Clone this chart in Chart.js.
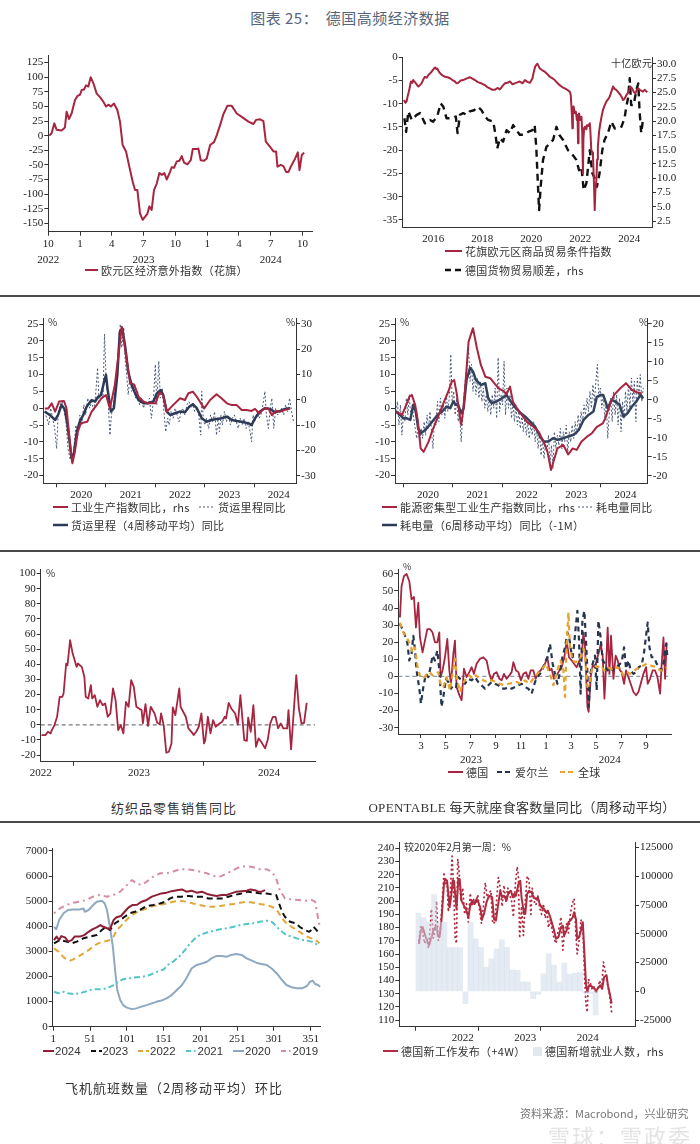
<!DOCTYPE html>
<html>
<head>
<meta charset="utf-8">
<title>德国高频经济数据</title>
<script src="https://cdn.jsdelivr.net/npm/chart.js@4.4.1/dist/chart.umd.min.js"></script>
<style>
  body { margin: 0; background: #fff; }
  #page { position: relative; width: 700px; height: 1144px; overflow: hidden; font-family: "Noto Sans CJK SC", sans-serif; color: #333; }
  canvas { position: absolute; }
  .t { position: absolute; white-space: nowrap; font-size: 11px; line-height: 14px; letter-spacing: 0.3px; color: #333; }
  .sep { position: absolute; left: 0; width: 700px; height: 2px; background: #4a4a4a; }
  svg.k { position: absolute; overflow: visible; }
</style>
</head>
<body>
<div id="page">
  <div class="t" style="left:0;width:700px;top:8px;text-align:center;font-size:15px;line-height:20px;color:#55657a;letter-spacing:0.5px;">图表 25：&nbsp;&nbsp;德国高频经济数据</div>
  <div class="sep" style="top:295px"></div>
  <div class="sep" style="top:550px"></div>
  <div class="sep" style="top:821px"></div>
</div>
<script>
// ---------- 数据 ----------
// 1 欧元区经济意外指数（月序号，0 = 2022年10月）
var p1Surprise = [[0.09,0],[0.31,4],[0.57,21],[0.79,10],[1.26,9],[1.57,14],[1.73,41],[1.95,28.5],[2.2,38],[2.52,61],[2.77,68],[2.99,70],[3.15,78],[3.37,79],[3.56,86],[3.78,84],[4.0,100],[4.25,90],[4.57,72],[4.88,66],[5.2,58],[5.45,50],[5.67,53],[5.92,50],[6.2,55],[6.52,44],[6.77,24],[7.02,-16],[7.34,-27],[7.65,-53],[7.97,-79],[8.19,-93],[8.41,-93],[8.66,-133],[8.91,-144],[9.13,-139],[9.35,-134],[9.54,-121],[9.76,-127],[9.98,-93],[10.24,-82],[10.49,-64],[10.71,-67],[10.96,-64],[11.18,-75],[11.5,-62],[11.65,-54],[11.87,-55],[12.13,-44],[12.38,-43],[12.6,-35],[12.82,-46],[13.13,-49],[13.45,-42],[13.64,-23],[14.02,-23],[14.17,-22],[14.39,-42],[14.71,-43],[14.96,-39],[15.28,-16],[15.65,-11],[15.91,1],[16.22,18],[16.54,37],[16.91,51],[17.32,51],[17.8,38],[18.43,30],[18.9,24],[19.37,20],[19.62,27],[20.0,28],[20.31,25],[20.54,-10],[20.94,-19],[21.26,-27],[21.51,-27],[21.64,-53],[21.95,-50],[22.2,-52],[22.46,-62],[22.68,-62],[22.9,-53],[23.31,-39],[23.56,-28.5],[23.72,-59],[23.94,-33],[24.16,-29]];
var p1YTicks = [-150,-125,-100,-75,-50,-25,0,25,50,75,100,125];
var p1XTicks = [0,3,6,9,12,15,18,21,24];
var p1XLabels = [['10','2022'],['1',''],['4',''],['7','2023'],['10',''],['1',''],['4',''],['7','2024'],['10','']];

// 2 贸易条件（左）与货物贸易顺差（右，十亿欧元）
var p2TermsOfTrade = [[2014.8,-9.2],[2014.86,-9.8],[2014.91,-9.5],[2014.96,-8.2],[2015.02,-7.0],[2015.06,-5.8],[2015.09,-5.2],[2015.14,-5.5],[2015.18,-4.9],[2015.24,-5.3],[2015.29,-5.6],[2015.34,-6.0],[2015.39,-6.3],[2015.45,-6.0],[2015.52,-5.6],[2015.59,-4.8],[2015.66,-4.2],[2015.73,-4.4],[2015.8,-3.8],[2015.86,-3.5],[2015.93,-3.1],[2016.0,-2.6],[2016.07,-2.2],[2016.12,-2.5],[2016.16,-2.4],[2016.22,-3.0],[2016.27,-3.4],[2016.37,-3.9],[2016.48,-4.2],[2016.58,-4.3],[2016.68,-4.5],[2016.78,-4.9],[2016.88,-5.2],[2016.95,-5.6],[2017.02,-5.5],[2017.12,-5.0],[2017.22,-4.9],[2017.35,-4.6],[2017.49,-4.3],[2017.6,-4.6],[2017.7,-4.9],[2017.8,-5.3],[2017.9,-5.5],[2018.0,-5.7],[2018.11,-6.0],[2018.2,-6.4],[2018.31,-6.7],[2018.41,-7.0],[2018.51,-7.0],[2018.62,-6.6],[2018.72,-6.9],[2018.82,-6.2],[2018.92,-5.6],[2019.03,-5.5],[2019.13,-5.2],[2019.23,-5.8],[2019.33,-5.6],[2019.43,-5.4],[2019.53,-5.2],[2019.64,-5.6],[2019.74,-4.9],[2019.84,-5.3],[2019.94,-5.5],[2020.0,-5.0],[2020.05,-4.5],[2020.1,-3.2],[2020.16,-2.0],[2020.21,-1.6],[2020.25,-1.4],[2020.3,-1.9],[2020.35,-2.4],[2020.45,-2.8],[2020.55,-3.1],[2020.65,-3.6],[2020.76,-4.2],[2020.86,-4.5],[2020.96,-4.9],[2021.06,-5.5],[2021.16,-6.0],[2021.26,-6.4],[2021.37,-6.7],[2021.47,-7.0],[2021.57,-7.4],[2021.61,-8.0],[2021.64,-10.6],[2021.66,-12.5],[2021.68,-15.3],[2021.7,-11.2],[2021.73,-10.6],[2021.77,-12.0],[2021.82,-11.7],[2021.86,-13.5],[2021.89,-12.4],[2021.91,-18.5],[2021.93,-13.0],[2021.95,-12.1],[2022.0,-13.5],[2022.05,-12.8],[2022.08,-16.0],[2022.11,-25.0],[2022.13,-17.5],[2022.16,-15.2],[2022.2,-14.9],[2022.25,-15.5],[2022.28,-14.6],[2022.33,-14.8],[2022.39,-14.2],[2022.42,-16.5],[2022.45,-19.9],[2022.49,-20.5],[2022.52,-21.4],[2022.55,-25.5],[2022.57,-29.0],[2022.59,-32.9],[2022.62,-28.5],[2022.66,-26.4],[2022.69,-22.0],[2022.72,-19.2],[2022.77,-16.0],[2022.82,-14.2],[2022.88,-12.5],[2022.93,-11.3],[2023.0,-10.3],[2023.07,-9.5],[2023.14,-9.0],[2023.2,-8.5],[2023.27,-7.4],[2023.34,-6.3],[2023.4,-6.8],[2023.47,-7.0],[2023.55,-7.5],[2023.64,-8.1],[2023.7,-8.6],[2023.74,-9.2],[2023.8,-9.0],[2023.85,-8.5],[2023.9,-8.0],[2023.95,-7.7],[2024.0,-7.0],[2024.04,-6.3],[2024.1,-6.6],[2024.15,-7.0],[2024.2,-7.6],[2024.26,-7.7],[2024.31,-7.0],[2024.37,-6.7],[2024.43,-7.0],[2024.49,-7.2],[2024.56,-7.4],[2024.63,-7.0],[2024.69,-7.3],[2024.74,-7.5]];
var p2TradeBalance = [[2014.82,20.5],[2014.89,18.1],[2014.98,21.7],[2015.12,20.2],[2015.32,21.1],[2015.46,21.4],[2015.66,19.6],[2015.86,20.2],[2015.99,19.9],[2016.16,20.8],[2016.3,23.1],[2016.41,22.5],[2016.54,20.5],[2016.75,20.5],[2016.92,20.8],[2016.99,17.9],[2017.09,21.1],[2017.22,21.4],[2017.36,21.1],[2017.49,21.7],[2017.66,21.9],[2017.83,22.5],[2017.97,21.9],[2018.11,20.8],[2018.24,20.2],[2018.45,19.9],[2018.55,17.3],[2018.61,15.2],[2018.72,17.0],[2018.85,16.4],[2018.99,18.4],[2019.13,17.9],[2019.26,19.3],[2019.4,18.4],[2019.53,17.6],[2019.67,17.6],[2019.87,18.1],[2020.05,18.4],[2020.14,19.3],[2020.21,14.9],[2020.25,10.9],[2020.32,4.4],[2020.39,8.8],[2020.48,13.2],[2020.62,15.5],[2020.76,16.1],[2020.89,16.7],[2021.03,19.0],[2021.14,17.6],[2021.3,16.7],[2021.5,14.9],[2021.64,14.4],[2021.84,13.2],[2021.95,11.4],[2022.05,12.0],[2022.14,7.9],[2022.25,9.1],[2022.39,14.9],[2022.49,10.9],[2022.59,10.0],[2022.68,8.5],[2022.79,10.9],[2022.9,14.9],[2022.99,16.7],[2023.13,17.9],[2023.27,19.9],[2023.41,18.7],[2023.54,18.7],[2023.68,19.0],[2023.81,20.5],[2023.88,22.5],[2023.95,24.0],[2024.02,27.5],[2024.08,22.8],[2024.18,22.8],[2024.29,25.4],[2024.37,26.6],[2024.42,21.9],[2024.49,17.9],[2024.56,20.2]];
var p2YTicks = [-35,-30,-25,-20,-15,-10,-5,0];
var p2Y1Ticks = [2.5,5,7.5,10,12.5,15,17.5,20,22.5,25,27.5,30];
var p2XTicks = [2016,2018,2020,2022,2024];
var p2XLabels = ['2016','2018','2020','2022','2024'];

// 3 工业生产（右）与货运里程（左）
var p3IndProd = [[2019.76,-3.4],[2019.83,-3.4],[2019.9,-1.4],[2019.97,-4.7],[2020.05,-0.7],[2020.15,-0.5],[2020.2,-3.4],[2020.29,-20.5],[2020.32,-25.1],[2020.37,-20.5],[2020.43,-12.6],[2020.49,-9.3],[2020.62,-8.7],[2020.71,-4.7],[2020.81,-2.1],[2020.91,0.6],[2021.0,1.9],[2021.08,-3.4],[2021.18,5.9],[2021.32,28.9],[2021.41,17.1],[2021.49,6.5],[2021.57,6.1],[2021.66,1.2],[2021.76,-0.7],[2021.86,-1.4],[2022.0,-1.4],[2022.09,3.0],[2022.16,1.9],[2022.23,-4.7],[2022.36,-2.1],[2022.5,0.6],[2022.6,-0.1],[2022.67,2.6],[2022.76,3.2],[2022.84,1.2],[2022.99,-3.4],[2023.11,-0.1],[2023.24,2.2],[2023.34,0.6],[2023.45,-1.4],[2023.55,-2.1],[2023.65,-2.1],[2023.75,-4.0],[2023.85,-4.0],[2023.95,-4.4],[2024.02,-3.6],[2024.11,-5.4],[2024.2,-3.4],[2024.29,-3.4],[2024.36,-6.0],[2024.45,-4.4],[2024.53,-4.7],[2024.63,-4.0],[2024.73,-3.4]];
var p3FreightMA = [[2019.76,-1.0],[2019.86,-2.0],[2019.97,-3.5],[2020.03,-2.0],[2020.1,1.0],[2020.17,-0.5],[2020.22,-5.0],[2020.27,-10.9],[2020.3,-14.9],[2020.35,-13.4],[2020.41,-6.9],[2020.47,-4.0],[2020.54,-2.0],[2020.61,0.5],[2020.66,1.5],[2020.71,2.4],[2020.78,2.0],[2020.84,3.4],[2020.9,3.9],[2020.97,8.4],[2021.0,9.9],[2021.03,5.9],[2021.1,-1.0],[2021.16,0.0],[2021.23,9.9],[2021.28,22.7],[2021.33,23.7],[2021.39,18.3],[2021.45,10.9],[2021.52,6.9],[2021.59,4.4],[2021.66,2.4],[2021.76,1.5],[2021.86,1.5],[2021.96,2.0],[2022.03,4.4],[2022.11,5.4],[2022.16,3.9],[2022.23,-1.0],[2022.3,-2.0],[2022.4,-1.5],[2022.5,-1.0],[2022.6,-1.2],[2022.69,0.5],[2022.76,1.2],[2022.84,0.0],[2022.94,-3.0],[2023.04,-4.0],[2023.14,-3.5],[2023.24,-3.2],[2023.34,-3.0],[2023.45,-2.5],[2023.55,-3.5],[2023.65,-3.8],[2023.75,-4.0],[2023.89,-4.5],[2023.95,-5.0],[2024.02,-3.0],[2024.12,-1.0],[2024.22,0.0],[2024.32,-0.2],[2024.43,-1.2],[2024.53,-0.8],[2024.63,-0.2],[2024.73,0.0]];
var p3Freight = [[2019.76,-1],[2019.8,-3],[2019.84,-5],[2019.88,0],[2019.92,-3],[2019.96,-6],[2020.0,-12],[2020.03,-2],[2020.07,1],[2020.11,2],[2020.15,-1],[2020.19,-4],[2020.23,-12],[2020.27,-15],[2020.31,-16],[2020.35,-12],[2020.39,-5],[2020.43,-8],[2020.47,-2],[2020.51,-5],[2020.55,1],[2020.59,-2],[2020.63,3],[2020.67,0],[2020.71,2],[2020.75,-1],[2020.79,4],[2020.83,12],[2020.86,2],[2020.9,5],[2020.94,3],[2020.97,22],[2021.0,10],[2021.04,3],[2021.08,-8],[2021.11,-2],[2021.15,1],[2021.19,6],[2021.23,12],[2021.26,20],[2021.29,25],[2021.32,18],[2021.36,24],[2021.39,14],[2021.42,10],[2021.45,4],[2021.48,9],[2021.52,5],[2021.56,7],[2021.6,3],[2021.64,5],[2021.68,1],[2021.72,3],[2021.76,0],[2021.8,2],[2021.84,1],[2021.88,3],[2021.92,-3],[2021.96,2],[2022.0,13],[2022.03,1],[2022.07,14],[2022.1,3],[2022.14,6],[2022.18,-2],[2022.21,-7],[2022.25,-3],[2022.28,-5],[2022.32,-1],[2022.36,-3],[2022.4,0],[2022.44,-2],[2022.48,-4],[2022.52,-1],[2022.56,0],[2022.6,-2],[2022.64,1],[2022.68,2],[2022.72,0],[2022.76,1],[2022.8,-1],[2022.84,0],[2022.88,-2],[2022.92,-8],[2022.94,5],[2022.97,-3],[2023.0,-5],[2023.04,-3],[2023.08,-6],[2023.12,-2],[2023.16,-4],[2023.2,-1],[2023.24,-8],[2023.27,-3],[2023.3,-7],[2023.33,-2],[2023.36,-5],[2023.4,-1],[2023.44,-4],[2023.48,-2],[2023.52,-5],[2023.56,-3],[2023.6,-2],[2023.64,-4],[2023.68,-6],[2023.72,-3],[2023.76,-5],[2023.8,-3],[2023.84,-6],[2023.88,-4],[2023.92,-7],[2023.95,-10],[2023.98,-2],[2024.02,-4],[2024.06,-1],[2024.1,-3],[2024.14,-2],[2024.18,1],[2024.22,5],[2024.25,-2],[2024.29,-6],[2024.33,0],[2024.36,3],[2024.4,-6],[2024.44,0],[2024.48,-2],[2024.52,-1],[2024.56,0],[2024.6,-2],[2024.64,1],[2024.68,-1],[2024.72,3],[2024.76,-1],[2024.8,-4]];
var p3YTicks = [-20,-15,-10,-5,0,5,10,15,20,25];
var p3Y1Ticks = [-30,-20,-10,0,10,20,30];
var yearTicks = [2020,2020.5,2021,2021.5,2022,2022.5,2023,2023.5,2024,2024.5];
var yearLabels = ['','2020','','2021','','2022','','2023','','2024'];
var yearMarks = [1,0,1,0,1,0,1,0,1,0];

// 4 能源密集型工业生产（右）与耗电量（左）
var p4EnergyIP = [[2019.86,-3.1],[2019.97,-4.0],[2020.03,-2.2],[2020.12,0.8],[2020.17,1.3],[2020.24,-1.4],[2020.29,-5.3],[2020.35,-12.8],[2020.41,-13.7],[2020.51,-11.0],[2020.59,-8.0],[2020.69,-4.9],[2020.81,-0.9],[2020.91,2.2],[2020.98,4.8],[2021.03,5.2],[2021.08,1.7],[2021.14,-4.0],[2021.17,-6.6],[2021.22,-2.2],[2021.32,15.3],[2021.41,18.9],[2021.49,13.6],[2021.57,9.2],[2021.66,6.1],[2021.76,5.7],[2021.84,4.4],[2021.93,3.0],[2022.03,2.3],[2022.09,1.5],[2022.16,3.5],[2022.22,-0.5],[2022.3,-2.2],[2022.4,-4.0],[2022.5,-5.8],[2022.64,-7.1],[2022.74,-8.4],[2022.84,-11.0],[2022.92,-13.7],[2022.99,-18.5],[2023.04,-16.3],[2023.12,-12.8],[2023.24,-11.9],[2023.34,-14.4],[2023.43,-12.8],[2023.51,-13.2],[2023.61,-11.0],[2023.72,-9.7],[2023.82,-8.8],[2023.92,-7.1],[2024.04,-6.2],[2024.09,-4.9],[2024.18,-1.4],[2024.27,1.3],[2024.39,3.0],[2024.51,4.4],[2024.63,2.6],[2024.73,2.0],[2024.83,1.7]];
var p4PowerMA = [[2019.85,-1.0],[2019.93,-2.0],[2020.0,-3.0],[2020.07,-3.0],[2020.14,-3.5],[2020.2,1.0],[2020.25,-1.0],[2020.3,-6.0],[2020.36,-7.4],[2020.44,-6.5],[2020.53,-5.0],[2020.61,-3.5],[2020.69,-2.0],[2020.78,-1.0],[2020.88,0.5],[2020.95,0.0],[2021.01,2.0],[2021.07,1.0],[2021.11,1.0],[2021.17,-1.5],[2021.22,0.0],[2021.28,8.4],[2021.35,12.0],[2021.41,10.9],[2021.47,8.4],[2021.57,6.9],[2021.66,7.4],[2021.72,2.9],[2021.79,1.5],[2021.89,2.0],[2021.99,2.9],[2022.09,3.9],[2022.2,1.5],[2022.28,0.0],[2022.38,-1.5],[2022.47,-2.5],[2022.57,-4.0],[2022.67,-5.5],[2022.77,-8.4],[2022.84,-9.9],[2022.94,-9.9],[2023.03,-8.9],[2023.12,-9.4],[2023.24,-8.9],[2023.34,-8.4],[2023.45,-7.9],[2023.55,-6.5],[2023.65,-3.5],[2023.75,-2.0],[2023.85,-1.0],[2023.92,3.4],[2023.99,3.9],[2024.05,3.9],[2024.14,0.0],[2024.22,2.5],[2024.29,2.0],[2024.38,1.0],[2024.46,-2.5],[2024.54,-1.5],[2024.63,0.5],[2024.72,2.0],[2024.8,3.9],[2024.86,2.9]];
var p4Power = [[2019.85,-1],[2019.88,2],[2019.91,-5],[2019.94,1],[2019.97,-8],[2020.0,-2],[2020.03,-4],[2020.06,3],[2020.09,-2],[2020.12,4],[2020.15,-3],[2020.18,1],[2020.21,-3],[2020.24,-6],[2020.27,-9],[2020.3,-5],[2020.33,-10],[2020.36,-6],[2020.39,-9],[2020.42,-4],[2020.45,-8],[2020.48,-2],[2020.51,-6],[2020.54,-1],[2020.57,-7],[2020.6,-12],[2020.63,-3],[2020.66,-5],[2020.69,2],[2020.72,-4],[2020.75,3],[2020.78,-2],[2020.81,1],[2020.84,-3],[2020.87,4],[2020.9,-1],[2020.93,3],[2020.96,16],[2020.99,1],[2021.02,5],[2021.05,-2],[2021.08,3],[2021.11,-4],[2021.14,-1],[2021.17,-10],[2021.2,-3],[2021.23,4],[2021.26,9],[2021.29,12],[2021.32,18],[2021.35,8],[2021.38,13],[2021.41,5],[2021.44,10],[2021.47,4],[2021.5,9],[2021.53,3],[2021.56,8],[2021.59,2],[2021.62,6],[2021.65,0],[2021.68,4],[2021.71,-1],[2021.74,3],[2021.77,-2],[2021.8,4],[2021.83,0],[2021.86,6],[2021.89,-3],[2021.92,15],[2021.95,-1],[2021.98,4],[2022.01,1],[2022.04,14],[2022.07,-2],[2022.1,6],[2022.13,0],[2022.16,4],[2022.19,-3],[2022.22,2],[2022.25,-4],[2022.28,1],[2022.31,-5],[2022.34,-1],[2022.37,-6],[2022.4,-2],[2022.43,-7],[2022.46,-3],[2022.49,-8],[2022.52,-4],[2022.55,-9],[2022.58,-5],[2022.61,-8],[2022.64,-4],[2022.67,-10],[2022.7,-6],[2022.73,-12],[2022.76,-7],[2022.79,-14],[2022.82,-9],[2022.85,-15],[2022.88,-10],[2022.91,-13],[2022.94,-8],[2022.97,-17],[2023.0,-11],[2023.03,-18],[2023.06,-7],[2023.09,-12],[2023.12,-8],[2023.15,-11],[2023.18,-6],[2023.21,-12],[2023.24,-7],[2023.27,-10],[2023.3,-5],[2023.33,-13],[2023.36,-7],[2023.39,-10],[2023.42,-5],[2023.45,-9],[2023.48,-4],[2023.51,-8],[2023.54,-2],[2023.57,-6],[2023.6,-1],[2023.63,-4],[2023.66,1],[2023.69,-2],[2023.72,3],[2023.75,-1],[2023.78,5],[2023.81,0],[2023.84,7],[2023.87,2],[2023.9,8],[2023.93,13],[2023.96,3],[2023.99,6],[2024.02,0],[2024.05,4],[2024.08,-3],[2024.11,2],[2024.14,-9],[2024.17,-2],[2024.2,3],[2024.23,-4],[2024.26,5],[2024.29,-2],[2024.32,4],[2024.35,-5],[2024.38,3],[2024.41,-7],[2024.44,2],[2024.47,-3],[2024.5,5],[2024.53,-1],[2024.56,7],[2024.59,0],[2024.62,9],[2024.65,2],[2024.68,8],[2024.71,-4],[2024.74,9],[2024.77,3],[2024.8,10],[2024.83,2],[2024.86,6]];
var p4Y1Ticks = [-20,-15,-10,-5,0,5,10,15,20];

// 5 纺织品零售销售同比
var p5Textile = [[2022.75,-6.8],[2022.78,-6.8],[2022.8,-4.6],[2022.82,-5.7],[2022.83,-3.5],[2022.85,-0.2],[2022.87,5.3],[2022.89,18.5],[2022.91,18.5],[2022.92,20.7],[2022.94,40.5],[2022.95,39.4],[2022.97,55.9],[2022.99,47.1],[2023.02,38.3],[2023.03,40.5],[2023.06,38.3],[2023.08,31.7],[2023.09,18.5],[2023.11,17.4],[2023.13,26.2],[2023.14,17.4],[2023.16,19.6],[2023.18,11.9],[2023.2,16.3],[2023.22,13.0],[2023.24,14.1],[2023.26,5.3],[2023.28,7.5],[2023.3,24.0],[2023.32,16.3],[2023.34,-3.5],[2023.36,-0.2],[2023.38,-5.7],[2023.4,15.2],[2023.42,11.9],[2023.44,29.5],[2023.46,25.1],[2023.48,11.9],[2023.5,10.8],[2023.52,9.7],[2023.53,0.9],[2023.55,13.7],[2023.57,-0.7],[2023.59,11.9],[2023.62,7.5],[2023.64,1.3],[2023.66,0.4],[2023.67,7.5],[2023.69,-0.2],[2023.71,-18.5],[2023.73,-17.8],[2023.75,-12.3],[2023.76,11.5],[2023.78,6.4],[2023.81,24.0],[2023.82,11.9],[2023.84,8.6],[2023.86,5.3],[2023.88,-2.4],[2023.91,-5.3],[2023.92,-6.8],[2023.94,-4.6],[2023.96,-1.3],[2023.98,7.5],[2024.0,-12.3],[2024.01,-10.1],[2024.03,5.3],[2024.05,-5.7],[2024.07,3.1],[2024.09,-1.3],[2024.12,0.9],[2024.14,2.0],[2024.16,5.3],[2024.17,4.2],[2024.19,14.5],[2024.21,10.8],[2024.24,7.5],[2024.26,0.2],[2024.27,9.7],[2024.28,19.6],[2024.31,-10.1],[2024.33,-10.6],[2024.34,4.8],[2024.36,-4.6],[2024.38,13.0],[2024.4,-14.5],[2024.42,-9.0],[2024.44,-11.2],[2024.47,-15.6],[2024.49,-10.1],[2024.51,0.9],[2024.53,5.3],[2024.55,5.3],[2024.57,-2.4],[2024.59,0.9],[2024.61,-2.4],[2024.64,-2.4],[2024.65,9.7],[2024.67,-16.3],[2024.71,32.8],[2024.73,10.8],[2024.75,0.9],[2024.77,1.3],[2024.79,14.5]];
var p5YTicks = [-20,-10,0,10,20,30,40,50,60,70,80,90,100];
var p5XTicks = [2022.744,2023,2023.5,2024,2024.5];
var p5XLabels = ['2022','','2023','','2024'];
var p5XMarks = [0,1,0,1,0];

// 6 OpenTable 就座食客同比（月序号，1 = 2023年1月）
var p6Germany = [[1.32,34.5],[1.45,52.8],[1.64,58.6],[1.85,60],[2.07,55.7],[2.25,45.1],[2.44,46.5],[2.6,28.6],[2.79,43.2],[2.92,22.8],[3.13,14.1],[3.32,20.9],[3.51,27.7],[3.72,27.7],[3.93,25.7],[4.12,19.9],[4.31,19.9],[4.47,25.7],[4.57,-0.4],[4.73,3.5],[4.92,11.2],[5.11,21.9],[5.27,3.5],[5.4,-4.3],[5.59,13.2],[5.72,20.9],[5.85,-6.2],[6.07,-11.0],[6.25,-13.9],[6.44,4.5],[6.65,-0.4],[6.87,2.5],[7.05,5.4],[7.24,1.5],[7.45,7.4],[7.72,10.3],[7.99,11.2],[8.25,9.3],[8.47,1.5],[8.65,-2.3],[8.84,1.5],[9.05,2.5],[9.27,-1.4],[9.45,-2.3],[9.64,1.5],[9.85,-1.4],[10.07,0.6],[10.25,2.5],[10.39,8.3],[10.6,3.5],[10.79,2.5],[10.99,-2.3],[11.19,1.5],[11.4,2.5],[11.59,-1.4],[11.77,3.5],[11.99,3.5],[12.17,-1.4],[12.39,2.5],[12.57,3.5],[12.73,5.4],[12.92,7.4],[13.11,11.2],[13.27,3.5],[13.45,4.5],[13.64,-1.4],[13.85,0.6],[14.07,3.5],[14.25,5.4],[14.47,11.2],[14.65,20.9],[14.84,11.2],[15.05,9.3],[15.24,7.4],[15.45,5.4],[15.67,9.3],[15.85,11.2],[15.99,25.7],[16.12,17.0],[16.31,-17.8],[16.41,-20.7],[16.57,-0.4],[16.73,6.4],[16.92,5.4],[17.11,11.2],[17.27,15.1],[17.37,19.0],[17.53,12.2],[17.67,-13.0],[17.8,5.4],[17.93,28.6],[18.07,1.5],[18.2,23.8],[18.39,-1.4],[18.57,12.2],[18.73,9.3],[18.92,3.5],[19.05,2.5],[19.24,-4.3],[19.4,3.5],[19.59,-0.4],[19.77,-4.3],[19.99,-9.1],[20.2,-11.0],[20.39,-9.1],[20.57,-4.3],[20.79,1.5],[21.0,5.4],[21.13,-4.3],[21.32,-1.4],[21.53,3.5],[21.72,3.5],[21.91,-0.4],[22.12,-10.1],[22.25,7.4],[22.39,22.8],[22.52,-1.4],[22.65,19.9]];
var p6Ireland = [[1.32,30.6],[1.59,26.7],[1.91,19.9],[2.07,9.3],[2.25,13.2],[2.39,23.8],[2.52,16.1],[2.65,3.5],[2.79,-3.3],[2.92,-10.1],[3.0,-15.9],[3.19,-6.2],[3.4,1.5],[3.59,-0.4],[3.77,5.4],[3.93,12.2],[4.12,9.3],[4.31,15.1],[4.47,3.5],[4.65,-17.8],[4.79,-12.0],[5.0,-1.4],[5.19,-3.3],[5.4,-7.2],[5.59,-5.2],[5.8,-6.2],[5.99,-0.4],[6.25,-2.3],[6.52,-4.3],[6.79,-1.4],[7.05,-2.3],[7.32,-0.4],[7.59,-3.3],[7.85,-5.2],[8.12,-7.2],[8.39,-5.2],[8.65,-3.3],[8.92,-4.3],[9.19,-5.2],[9.45,-7.2],[9.72,-7.2],[9.99,-6.2],[10.25,-7.2],[10.52,-6.2],[10.79,-5.2],[11.05,-4.3],[11.32,-6.2],[11.59,-7.2],[11.85,-10.1],[12.12,-3.3],[12.39,0.6],[12.65,2.5],[12.92,8.3],[13.11,11.2],[13.32,19.0],[13.53,7.4],[13.72,1.5],[13.91,-4.3],[14.12,2.5],[14.31,11.2],[14.52,17.0],[14.71,25.7],[14.87,21.9],[15.0,15.1],[15.13,11.2],[15.24,17.9],[15.37,28.6],[15.51,38.3],[15.64,20.9],[15.77,-10.1],[15.91,32.6],[16.07,38.3],[16.25,13.2],[16.41,-17.8],[16.57,2.5],[16.73,7.4],[16.92,12.2],[17.05,-8.1],[17.19,32.6],[17.37,22.8],[17.53,9.3],[17.72,7.4],[17.91,3.5],[18.12,5.4],[18.33,3.5],[18.55,5.4],[18.79,6.4],[19.05,8.3],[19.24,17.0],[19.4,4.5],[19.59,9.3],[19.77,3.5],[19.99,1.5],[20.2,2.5],[20.41,5.4],[20.65,6.4],[20.84,14.1],[21.0,23.8],[21.13,31.5],[21.27,17.0],[21.45,11.2],[21.64,11.2],[21.85,7.4],[22.07,5.4],[22.25,3.5],[22.44,9.3],[22.6,19.0],[22.71,11.2]];
var p6Global = [[1.32,31.5],[1.59,25.7],[1.85,22.8],[2.12,19.0],[2.33,14.1],[2.52,17.0],[2.73,5.4],[2.92,0.6],[3.13,-1.4],[3.4,0.6],[3.67,2.5],[3.93,0.6],[4.2,1.5],[4.39,2.5],[4.57,-5.2],[4.79,-6.2],[5.05,-0.4],[5.32,-8.1],[5.53,1.5],[5.72,10.3],[5.91,-2.3],[6.12,-9.1],[6.33,-4.3],[6.6,-1.4],[6.87,0.6],[7.13,-1.4],[7.4,0.6],[7.72,-1.4],[7.99,-2.3],[8.31,-3.3],[8.65,-2.3],[9.0,-3.3],[9.32,-4.3],[9.64,-5.2],[9.99,-4.3],[10.33,-3.9],[10.65,-3.3],[10.97,-4.3],[11.32,-2.3],[11.67,-4.3],[11.99,-1.4],[12.31,1.5],[12.57,3.5],[12.79,5.4],[13.0,7.4],[13.19,3.5],[13.4,-0.4],[13.59,-5.2],[13.8,0.6],[13.99,5.4],[14.17,9.3],[14.39,3.5],[14.52,-12.0],[14.65,19.0],[14.79,37.4],[14.92,17.0],[15.13,9.3],[15.37,8.3],[15.59,9.3],[15.77,11.2],[15.99,16.1],[16.12,13.2],[16.31,-6.2],[16.47,-4.3],[16.65,3.5],[16.87,6.4],[17.11,5.4],[17.37,6.4],[17.64,3.5],[17.91,5.4],[18.17,4.5],[18.44,3.5],[18.65,5.4],[18.92,4.5],[19.19,0.6],[19.45,2.5],[19.72,1.5],[19.99,2.5],[20.25,4.5],[20.52,5.4],[20.79,6.4],[21.05,7.4],[21.32,6.4],[21.59,5.9],[21.85,5.4],[22.12,3.5],[22.39,3.5],[22.65,5.4]];
var p6YTicks = [-30,-20,-10,0,10,20,30,40,50,60];
var p6XTicks = [3,5,7,9,11,13,15,17,18.1,19,21];
var p6XLabels = [['3'],['5'],['7','2023'],['9'],['11'],['1'],['3'],['5'],['','2024'],['7'],['9']];
var p6XMarks = [1,1,1,1,1,1,1,1,0,1,1];

// 7 飞机航班数量（按年内日序）
var p7Y2024 = [[2,3450],[5.5,3590],[9,3450],[12,3610],[17,3560],[21,3390],[26,3450],[30,3590],[37,3590],[43,3650],[49,3780],[54,3880],[60,3960],[65,4050],[69,3980],[74,3920],[78,3880],[83,4250],[87,4360],[93,4410],[98,4580],[103,4740],[109,4850],[115,4860],[121,4980],[128,5050],[135,5180],[142,5250],[148,5310],[155,5340],[162,5400],[169,5440],[176,5470],[182,5380],[189,5420],[196,5340],[203,5380],[210,5290],[216,5250],[223,5210],[230,5250],[237,5250],[243,5310],[250,5380],[257,5400],[264,5420],[269,5470],[275,5440],[280,5380],[284,5380],[289,5440]];
var p7Y2023 = [[2,3320],[10,3450],[19,3390],[26,3320],[33,3390],[42,3520],[51,3590],[60,3650],[67,3850],[73,3980],[78,3850],[85,4120],[92,4250],[98,4380],[105,4520],[112,4580],[119,4650],[128,4810],[137,4850],[146,4910],[153,4980],[160,5110],[166,5180],[175,5180],[185,5210],[194,5180],[203,5180],[212,5110],[221,5110],[230,5110],[239,5180],[248,5250],[257,5310],[266,5380],[275,5340],[284,5310],[291,5310],[298,5270],[304,5250],[308,4910],[312,4580],[316,4380],[323,4180],[330,4120],[336,3980],[343,3850],[349,3780],[352,3850],[355,3980],[359,3850],[363,3650]];
var p7Y2022 = [[2,3120],[8,2990],[12,2860],[17,2720],[24,2630],[28,2680],[35,2790],[42,2920],[49,3050],[55,3190],[62,3320],[69,3390],[76,3430],[83,3590],[87,3850],[92,3980],[98,4180],[105,4380],[112,4520],[119,4620],[128,4710],[137,4810],[146,4850],[155,4910],[164,4980],[173,5020],[182,4980],[191,4910],[200,4850],[210,4780],[219,4780],[228,4810],[237,4850],[246,4890],[255,4940],[264,4980],[273,4940],[282,4890],[291,4850],[298,4780],[305,4650],[312,4320],[318,4120],[325,3980],[332,3850],[339,3720],[346,3590],[352,3520],[358,3450],[363,3320]];
var p7Y2021 = [[2,1390],[8,1330],[15,1390],[21,1330],[28,1300],[37,1330],[44,1390],[51,1460],[58,1490],[64,1490],[74,1530],[83,1660],[89,1790],[96,1890],[105,1930],[114,1970],[123,1990],[132,2060],[142,2190],[151,2280],[157,2460],[164,2590],[173,2820],[180,3050],[187,3320],[194,3520],[200,3650],[210,3750],[219,3820],[228,3880],[237,3920],[246,3980],[255,4050],[264,4090],[273,4120],[282,4180],[291,4220],[298,4180],[305,3980],[312,3780],[318,3650],[325,3590],[332,3520],[339,3450],[346,3430],[352,3390],[359,3290],[363,3250]];
var p7Y2020 = [[2,3980],[5,3880],[9,4250],[15,4520],[21,4650],[28,4670],[37,4670],[42,4710],[44,4580],[49,4650],[54,4810],[60,4980],[67,5020],[71,4910],[74,4650],[78,3980],[82,3190],[85,2260],[88,1460],[92,1060],[96,860],[101,760],[108,700],[114,730],[121,800],[128,860],[135,930],[142,1000],[148,1040],[155,1130],[162,1260],[169,1460],[176,1660],[182,1930],[189,2320],[196,2460],[203,2520],[210,2590],[216,2720],[223,2820],[230,2820],[237,2790],[243,2860],[250,2900],[257,2860],[264,2720],[271,2630],[277,2550],[284,2500],[291,2460],[298,2320],[305,2120],[312,1860],[318,1660],[325,1570],[332,1530],[339,1530],[346,1620],[350,1790],[354,1830],[357,1700],[361,1660],[364,1590]];
var p7Y2019 = [[2,4520],[10,4710],[19,4850],[28,4940],[37,4980],[46,5050],[55,5180],[64,5250],[74,5180],[83,5250],[92,5380],[101,5640],[108,5840],[114,5710],[121,5640],[128,5780],[137,5980],[146,6110],[155,6110],[164,6180],[173,6270],[182,6270],[191,6240],[200,6180],[210,6110],[219,6000],[228,5980],[237,6110],[246,6240],[255,6370],[264,6400],[273,6350],[282,6270],[291,6270],[298,6180],[304,5910],[309,5440],[316,5110],[325,5070],[334,5050],[343,5020],[352,5050],[357,4980],[361,4320],[364,3920]];
var p7YTicks = [0,1000,2000,3000,4000,5000,6000,7000];
var p7XTicks = [1,51,101,151,201,251,301,351];

// 8 新工作发布（左）与新增就业人数（右）
var p8Postings = [[2021.8,167.7],[2021.83,177.8],[2021.86,180.3],[2021.9,174.0],[2021.93,170.2],[2021.96,166.5],[2022.0,172.7],[2022.03,177.8],[2022.08,181.5],[2022.1,174.0],[2022.13,173.2],[2022.16,185.3],[2022.2,212.9],[2022.22,216.7],[2022.25,215.4],[2022.29,195.3],[2022.32,205.4],[2022.34,215.9],[2022.36,215.4],[2022.4,194.1],[2022.43,216.7],[2022.45,216.7],[2022.48,200.4],[2022.52,196.6],[2022.56,192.8],[2022.59,187.8],[2022.62,196.6],[2022.65,200.4],[2022.69,197.8],[2022.72,201.6],[2022.75,199.1],[2022.78,195.3],[2022.81,186.5],[2022.84,190.3],[2022.88,199.1],[2022.91,202.9],[2022.94,204.1],[2022.97,202.9],[2023.0,186.5],[2023.03,185.3],[2023.06,195.3],[2023.1,207.9],[2023.13,202.9],[2023.16,204.1],[2023.2,200.4],[2023.23,206.6],[2023.27,207.9],[2023.3,202.9],[2023.32,205.4],[2023.35,204.1],[2023.39,212.9],[2023.42,215.4],[2023.44,202.9],[2023.48,190.3],[2023.5,190.3],[2023.53,205.4],[2023.56,207.9],[2023.6,206.6],[2023.63,203.4],[2023.67,201.6],[2023.7,202.9],[2023.73,197.8],[2023.76,195.3],[2023.8,194.1],[2023.83,191.6],[2023.86,192.8],[2023.9,187.8],[2023.93,182.8],[2023.96,177.8],[2023.99,171.5],[2024.03,172.7],[2024.07,180.3],[2024.1,181.5],[2024.12,174.0],[2024.16,177.8],[2024.19,184.0],[2024.22,185.3],[2024.26,187.8],[2024.28,191.6],[2024.31,186.5],[2024.33,171.5],[2024.36,172.7],[2024.39,177.8],[2024.42,184.0],[2024.44,165.2],[2024.47,137.6],[2024.49,131.3],[2024.52,136.4],[2024.56,135.6],[2024.6,133.8],[2024.64,132.6],[2024.68,135.1],[2024.7,136.4],[2024.73,133.8],[2024.76,142.6],[2024.8,143.9],[2024.82,136.4],[2024.85,130.1],[2024.88,122.6]];
var p8PostingsRaw = [[2021.8,170],[2021.83,182],[2021.86,176],[2021.89,168],[2021.92,172],[2021.95,165],[2021.98,180],[2022.0,194],[2022.03,172],[2022.06,178],[2022.08,200],[2022.11,170],[2022.14,176],[2022.17,198],[2022.2,222],[2022.22,212],[2022.25,214],[2022.27,192],[2022.3,205],[2022.33,234],[2022.35,215],[2022.38,172],[2022.4,168],[2022.42,232],[2022.44,224],[2022.47,200],[2022.5,210],[2022.53,190],[2022.56,198],[2022.59,184],[2022.62,206],[2022.65,196],[2022.68,202],[2022.71,198],[2022.74,205],[2022.77,193],[2022.8,183],[2022.83,196],[2022.86,214],[2022.89,203],[2022.92,206],[2022.95,208],[2022.98,183],[2023.01,184],[2023.04,200],[2023.07,218],[2023.1,210],[2023.13,196],[2023.16,212],[2023.19,200],[2023.22,210],[2023.25,205],[2023.28,200],[2023.31,188],[2023.34,212],[2023.37,226],[2023.39,219],[2023.41,172],[2023.44,196],[2023.47,174],[2023.5,200],[2023.53,219],[2023.56,216],[2023.59,190],[2023.61,210],[2023.64,200],[2023.67,197],[2023.7,204],[2023.73,195],[2023.76,190],[2023.79,198],[2023.82,187],[2023.85,193],[2023.87,180],[2023.9,186],[2023.93,178],[2023.96,172],[2023.99,168],[2024.02,176],[2024.05,182],[2024.07,188],[2024.1,163],[2024.13,178],[2024.16,183],[2024.19,176],[2024.22,190],[2024.25,198],[2024.28,202],[2024.31,174],[2024.33,160],[2024.36,170],[2024.39,186],[2024.42,180],[2024.45,140],[2024.47,122],[2024.49,116],[2024.51,141],[2024.54,138],[2024.57,133],[2024.6,135],[2024.63,130],[2024.66,134],[2024.69,140],[2024.72,133],[2024.75,154],[2024.77,149],[2024.8,141],[2024.82,136],[2024.85,128],[2024.88,116]];
var p8Employment = [[2021.792,68000],[2021.875,64000],[2021.958,60000],[2022.042,84000],[2022.125,60000],[2022.208,60000],[2022.292,38000],[2022.375,38000],[2022.458,38000],[2022.542,-10700],[2022.625,60000],[2022.708,45600],[2022.792,38300],[2022.875,21000],[2022.958,28300],[2023.042,36900],[2023.125,44700],[2023.208,38300],[2023.292,18700],[2023.375,18200],[2023.458,8100],[2023.542,8100],[2023.625,-6300],[2023.708,-2600],[2023.792,15300],[2023.875,32600],[2023.958,22500],[2024.042,8100],[2024.125,24500],[2024.208,14700],[2024.292,15900],[2024.375,16700],[2024.458,-1400],[2024.542,-2000],[2024.625,-20800]];
var p8YTicks = [110,120,130,140,150,160,170,180,190,200,210,220,230,240];
var p8Y1Ticks = [-25000,0,25000,50000,75000,100000,125000];
var p8XTicks = [2022,2022.5,2023,2023.5,2024,2024.5];
var p8XLabels = ['','2022','','2023','','2024'];
var p8XMarks = [1,0,1,0,1,0];

// ---------- 绘图 ----------
var AXIS = '#333';
var TXT = '#222';
var RED = '#a7253f';
var NAVY = '#2c3a58';
var SERIF = '"Liberation Serif", "Times New Roman", serif';
var page = document.getElementById('page');

function pts(arr) { return arr.map(function (p) { return { x: p[0], y: p[1] }; }); }

function lineSet(arr, color, width, dash, axis, order) {
  return {
    type: 'line', data: pts(arr), borderColor: color, borderWidth: width, borderDash: dash || [],
    pointRadius: 0, tension: 0, fill: false, yAxisID: axis || 'y', order: order || 0,
    borderJoinStyle: 'round'
  };
}

function yScale(pos, min, max, vals, fmt) {
  return {
    type: 'linear', position: pos, min: min, max: max,
    afterBuildTicks: function (s) { s.ticks = vals.map(function (v) { return { value: v }; }); },
    grid: { drawOnChartArea: false, tickLength: 4, tickColor: AXIS },
    border: { color: AXIS },
    ticks: { font: { family: SERIF, size: 11 }, color: TXT, padding: 1, autoSkip: false,
      callback: fmt || function (v) { return String(v); } }
  };
}

function xScale(min, max, vals, labels, marks, lh, pad) {
  return {
    type: 'linear', position: 'bottom', min: min, max: max,
    afterBuildTicks: function (s) { s.ticks = vals.map(function (v) { return { value: v }; }); },
    grid: { drawOnChartArea: false, tickLength: 4,
      tickColor: function (c) { return marks[c.index] ? AXIS : 'rgba(0,0,0,0)'; } },
    border: { color: AXIS },
    ticks: { font: { family: SERIF, size: 11, lineHeight: lh || 1.2 }, color: TXT,
      padding: pad === undefined ? 1 : pad, autoSkip: false, maxRotation: 0,
      callback: function (v, i) { return labels[i]; } }
  };
}

function makeChart(box, area, scales, datasets) {
  var c = document.createElement('canvas');
  c.width = box.w; c.height = box.h;
  c.style.left = box.x + 'px'; c.style.top = box.y + 'px';
  page.appendChild(c);
  scales.x.afterFit = function (s) { s.height = box.y + box.h - area.b; };
  scales.y.afterFit = function (s) { s.width = area.l - box.x; };
  if (scales.y1) scales.y1.afterFit = function (s) { s.width = box.x + box.w - area.r; };
  return new Chart(c, {
    type: 'line',
    data: { datasets: datasets },
    options: {
      responsive: false, animation: false, devicePixelRatio: 1,
      layout: { padding: { left: 0, top: area.t - box.y, right: scales.y1 ? 0 : box.x + box.w - area.r, bottom: 0 } },
      plugins: { legend: { display: false }, tooltip: { enabled: false } },
      scales: scales
    }
  });
}

function label(x, y, text, css) {
  var d = document.createElement('div');
  d.className = 't';
  d.textContent = text;
  d.style.left = x + 'px';
  d.style.top = (y - 7) + 'px';
  if (css) d.style.cssText += css;
  page.appendChild(d);
}

function key(x, y, len, color, width, dash, text) {
  var ns = 'http://www.w3.org/2000/svg';
  var svg = document.createElementNS(ns, 'svg');
  svg.setAttribute('class', 'k');
  svg.setAttribute('width', len); svg.setAttribute('height', 6);
  svg.style.left = x + 'px'; svg.style.top = (y - 3) + 'px';
  var ln = document.createElementNS(ns, 'line');
  ln.setAttribute('x1', 0); ln.setAttribute('y1', 3); ln.setAttribute('x2', len); ln.setAttribute('y2', 3);
  ln.setAttribute('stroke', color); ln.setAttribute('stroke-width', width);
  if (dash) ln.setAttribute('stroke-dasharray', dash);
  svg.appendChild(ln);
  page.appendChild(svg);
  if (text) label(x + len + 3, y, text);
}

function boxKey(x, y, color, text) {
  var d = document.createElement('div');
  d.style.cssText = 'position:absolute;width:9px;height:9px;background:' + color + ';left:' + x + 'px;top:' + (y - 4.5) + 'px;';
  page.appendChild(d);
  label(x + 12, y, text);
}

// 1
makeChart({ x: 0, y: 45, w: 345, h: 232 }, { l: 48.3, t: 55, r: 312, b: 231.7 }, {
  x: xScale(0, 24.9, p1XTicks, p1XLabels, [1,1,1,1,1,1,1,1,1], 1.45, 0),
  y: yScale('left', -164.3, 138, p1YTicks)
}, [lineSet(p1Surprise, RED, 2)]);
key(85, 270, 13, RED, 2, null, '欧元区经济意外指数（花旗）');

// 2
makeChart({ x: 350, y: 45, w: 350, h: 200 }, { l: 402.7, t: 57.3, r: 652, b: 227.3 }, {
  x: xScale(2014.75, 2024.93, p2XTicks, p2XLabels, [0,0,0,0,0]),
  y: yScale('left', -36.6, 0, p2YTicks),
  y1: yScale('right', 1.4, 31.17, p2Y1Ticks, function (v) { return v.toFixed(1); })
}, [
  lineSet(p2TermsOfTrade, RED, 2, null, 'y', 0),
  lineSet(p2TradeBalance, '#111', 2.4, [7, 5], 'y1', 1)
]);
label(611, 63, '十亿欧元', 'font-size:10px;');
key(445, 251, 17, RED, 2, null, '花旗欧元区商品贸易条件指数');
key(445, 270, 17, '#111', 2.4, '6,4', '德国货物贸易顺差，rhs');

// 3
makeChart({ x: 0, y: 310, w: 345, h: 190 }, { l: 43.3, t: 318.3, r: 296, b: 483.3 }, {
  x: xScale(2019.73, 2024.85, yearTicks, yearLabels, yearMarks),
  y: yScale('left', -22.3, 26.7, p3YTicks),
  y1: yScale('right', -33.0, 32.2, p3Y1Ticks)
}, [
  lineSet(p3Freight, '#4a5a78', 1, [2, 2], 'y', 3),
  lineSet(p3FreightMA, NAVY, 2.5, null, 'y', 2),
  lineSet(p3IndProd, RED, 2, null, 'y1', 1)
]);
label(48, 322, '%', 'font-size:10px;');
label(286, 322, '%', 'font-size:10px;');
key(53, 507, 15, RED, 2, null, '工业生产指数同比，rhs');
key(199, 507, 16, '#4a5a78', 1, '2,2', '货运里程同比');
key(53, 525, 15, NAVY, 2.5, null, '货运里程（4周移动平均）同比');

// 4
makeChart({ x: 350, y: 310, w: 350, h: 190 }, { l: 395, t: 318.3, r: 647.7, b: 483.3 }, {
  x: xScale(2019.83, 2024.95, yearTicks, yearLabels, yearMarks),
  y: yScale('left', -22.3, 26.7, p3YTicks),
  y1: yScale('right', -22.0, 21.5, p4Y1Ticks)
}, [
  lineSet(p4Power, '#4a5a78', 1, [2, 2], 'y', 3),
  lineSet(p4PowerMA, '#33425f', 2.5, null, 'y', 2),
  lineSet(p4EnergyIP, RED, 2, null, 'y1', 1)
]);
label(400, 322, '%', 'font-size:10px;');
label(639, 322, '%', 'font-size:10px;');
key(382, 507, 15, RED, 2, null, '能源密集型工业生产指数同比，rhs');
key(578, 507, 15, '#4a5a78', 1, '2,2', '耗电量同比');
key(382, 525, 15, NAVY, 2.5, null, '耗电量（6周移动平均）同比（-1M）');

// 5
var p5Min = 2022.744, p5Max = 2024.854;
makeChart({ x: 0, y: 562, w: 345, h: 225 }, { l: 40.7, t: 569.3, r: 315, b: 761.7 }, {
  x: xScale(p5Min, p5Max, p5XTicks, p5XLabels, p5XMarks),
  y: yScale('left', -24.4, 102.6, p5YTicks)
}, [
  lineSet([[p5Min, 0], [p5Max, 0]], '#777', 1.2, [4, 3], 'y', 2),
  lineSet(p5Textile, RED, 1.8, null, 'y', 1)
]);
label(46, 573, '%', 'font-size:10px;');
label(174, 808, '纺织品零售销售同比', 'font-size:13px;transform:translateX(-50%);letter-spacing:1px;');

// 6
var p6Min = 1.19, p6Max = 23.05;
makeChart({ x: 350, y: 562, w: 350, h: 205 }, { l: 398.3, t: 568.3, r: 671.7, b: 734 }, {
  x: xScale(p6Min, p6Max, p6XTicks, p6XLabels, p6XMarks, 1.27),
  y: yScale('left', -33.7, 62.5, p6YTicks)
}, [
  lineSet([[p6Min, 0], [p6Max, 0]], '#8a9ab0', 1.2, [4, 3], 'y', 4),
  lineSet(p6Germany, RED, 1.8, null, 'y', 3),
  lineSet(p6Ireland, '#263550', 2.2, [5, 4], 'y', 2),
  lineSet(p6Global, '#e8a22e', 2.2, [5, 4], 'y', 1)
]);
label(403, 567, '%', 'font-size:9px;');
key(448, 772, 15, RED, 2, null, '德国');
key(497, 772, 15, '#263550', 2.2, '5,3', '爱尔兰');
key(560, 772, 15, '#e8a22e', 2.2, '5,3', '全球');
label(522, 808, 'OPENTABLE 每天就座食客数量同比（周移动平均）', 'font-size:13px;transform:translateX(-50%);font-family:"Liberation Serif","Noto Sans CJK SC",serif;');

// 7
makeChart({ x: 0, y: 840, w: 345, h: 205 }, { l: 52.7, t: 848.3, r: 320.7, b: 1026.7 }, {
  x: xScale(0.2, 364.6, p7XTicks, p7XTicks.map(String), [1,1,1,1,1,1,1,1], 1.2, 2),
  y: yScale('left', 0, 7107, p7YTicks)
}, [
  lineSet(p7Y2019, '#d98ba3', 2, [2, 4, 6, 4], 'y', 6),
  lineSet(p7Y2020, '#8fa9c0', 2, null, 'y', 5),
  lineSet(p7Y2021, '#55c4c8', 2, [6, 3, 2, 3], 'y', 4),
  lineSet(p7Y2022, '#e2a63a', 2, [6, 4], 'y', 3),
  lineSet(p7Y2023, '#111', 2, [6, 4], 'y', 2),
  lineSet(p7Y2024, '#8e1f35', 2, null, 'y', 1)
]);
var p7Keys = [['2024', '#8e1f35', null], ['2023', '#111', '5,3'], ['2022', '#e2a63a', '5,3'], ['2021', '#55c4c8', '5,3,1.5,3'], ['2020', '#8fa9c0', null], ['2019', '#d98ba3', '5,3,1.5,3,1.5,3']];
p7Keys.forEach(function (k, i) {
  key(43 + i * 47.5, 1051, 11, k[1], 2, k[2], null);
  label(43 + i * 47.5 + 12, 1051, k[0], 'font-family:"Liberation Sans",Arial,sans-serif;font-size:11.5px;letter-spacing:0;');
});
label(174, 1088, '飞机航班数量（2周移动平均）环比', 'font-size:13px;transform:translateX(-50%);letter-spacing:1px;');

// 8
makeChart({ x: 350, y: 835, w: 350, h: 210 }, { l: 399.3, t: 841.7, r: 635, b: 1026.7 }, {
  x: xScale(2021.8, 2024.94, p8XTicks, p8XLabels, p8XMarks),
  y: yScale('left', 105, 244.3, p8YTicks),
  y1: yScale('right', -30770, 129300, p8Y1Ticks)
}, [
  { type: 'bar', data: pts(p8Employment), yAxisID: 'y1', backgroundColor: 'rgba(208,218,234,0.55)',
    barPercentage: 1, categoryPercentage: 1, order: 0 },
  lineSet(p8Postings, '#b02a40', 2, null, 'y', 1),
  Object.assign(lineSet(p8PostingsRaw, '#b02a40', 1.8, [0.5, 4], 'y', 2), { borderCapStyle: 'round' })
]);
label(404, 847, '较2020年2月第一周：%', 'font-size:10px;letter-spacing:0;');
key(383, 1051, 15, '#b02a40', 2, null, '德国新工作发布（+4W）');
boxKey(533, 1051, '#e2e7f0', '德国新增就业人数，rhs');

// 来源
label(520, 1113, '资料来源：Macrobond，兴业研究', 'font-size:11px;color:#777;letter-spacing:0;');
label(548, 1131, '雪球：雪政委', 'font-size:22px;line-height:22px;color:#e4e4e4;letter-spacing:2px;');
</script>
</body>
</html>
